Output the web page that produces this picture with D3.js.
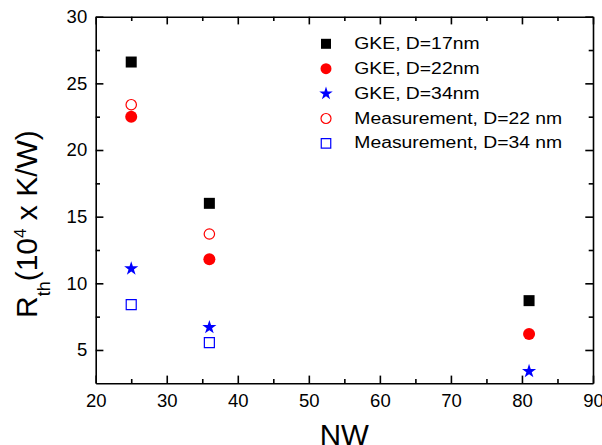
<!DOCTYPE html>
<html>
<head>
<meta charset="utf-8">
<script src="https://cdn.jsdelivr.net/npm/d3@7"></script>
<style>
  html, body { margin: 0; padding: 0; background: #fff; }
  svg { display: block; }
  text { font-family: "Liberation Sans", Arial, Helvetica, sans-serif; fill: #000; }
</style>
</head>
<body>
<svg id="chart" width="602" height="445"></svg>
<script>
// ---- data ----
const nwValues = [25, 36, 81];
const gke17 = [26.6, 16.0, 8.7];
const gke22 = [22.5, 11.8, 6.2];
const gke34 = [11.1, 6.7, 3.4];
const meas22 = [23.4, 13.7, null];
const meas34 = [8.4, 5.55, null];
const xMajorTicks = [20, 30, 40, 50, 60, 70, 80, 90];
const xMinorTicks = [25, 35, 45, 55, 65, 75, 85];
const yMajorTicks = [5, 10, 15, 20, 25, 30];
const yMinorTicks = [7.5, 12.5, 17.5, 22.5, 27.5];
const legendLabels = ["GKE, D=17nm", "GKE, D=22nm", "GKE, D=34nm", "Measurement, D=22 nm", "Measurement, D=34 nm"];
const xTitle = "NW";

// ---- layout ----
const svg = d3.select("#chart");
const L = 95.7, R = 593, T = 16.7, B = 383.3;
const x = d3.scaleLinear().domain([20, 90]).range([L, R]);
const y = d3.scaleLinear().domain([2.5, 30]).range([B, T]);

const axW = 1.6, majLen = 7.7, minLen = 4.3;

function styleAxis(g) {
  g.selectAll("path.domain").attr("stroke", "#000").attr("stroke-width", axW);
  g.selectAll(".tick line").attr("stroke", "#000").attr("stroke-width", axW);
  g.selectAll(".tick text").style("font-size", "18.5px").attr("fill", "#000");
}

// bottom
const gB = svg.append("g").attr("transform", `translate(0,${B})`)
  .call(d3.axisBottom(x).tickValues(xMajorTicks).tickSizeInner(-majLen).tickSizeOuter(0).tickPadding(11).tickFormat(d3.format("d")));
styleAxis(gB);
const gBm = svg.append("g").attr("transform", `translate(0,${B})`)
  .call(d3.axisBottom(x).tickValues(xMinorTicks).tickSizeInner(-minLen).tickSizeOuter(0).tickFormat(""));
styleAxis(gBm); gBm.select("path.domain").remove();
// top
const gT = svg.append("g").attr("transform", `translate(0,${T})`)
  .call(d3.axisTop(x).tickValues(xMajorTicks).tickSizeInner(-majLen).tickSizeOuter(0).tickFormat(""));
styleAxis(gT);
const gTm = svg.append("g").attr("transform", `translate(0,${T})`)
  .call(d3.axisTop(x).tickValues(xMinorTicks).tickSizeInner(-minLen).tickSizeOuter(0).tickFormat(""));
styleAxis(gTm); gTm.select("path.domain").remove();
// left
const gL = svg.append("g").attr("transform", `translate(${L},0)`)
  .call(d3.axisLeft(y).tickValues(yMajorTicks).tickSizeInner(-majLen).tickSizeOuter(0).tickPadding(8.5).tickFormat(d3.format("d")));
styleAxis(gL);
const gLm = svg.append("g").attr("transform", `translate(${L},0)`)
  .call(d3.axisLeft(y).tickValues(yMinorTicks).tickSizeInner(-minLen).tickSizeOuter(0).tickFormat(""));
styleAxis(gLm); gLm.select("path.domain").remove();
// right
const gR = svg.append("g").attr("transform", `translate(${R},0)`)
  .call(d3.axisRight(y).tickValues(yMajorTicks).tickSizeInner(-majLen).tickSizeOuter(0).tickFormat(""));
styleAxis(gR);
const gRm = svg.append("g").attr("transform", `translate(${R},0)`)
  .call(d3.axisRight(y).tickValues(yMinorTicks).tickSizeInner(-minLen).tickSizeOuter(0).tickFormat(""));
styleAxis(gRm); gRm.select("path.domain").remove();

// ---- series ----
const series = [
  { vals: gke17, sym: d3.symbolSquare, size: 121, fill: "#000", stroke: "none", sw: 0, lsize: 100 },
  { vals: gke22, sym: d3.symbolCircle, size: Math.PI * 36, fill: "#ff0000", stroke: "none", sw: 0, lsize: Math.PI * 30 },
  { vals: gke34, sym: d3.symbolStar, size: 62, fill: "#0000ff", stroke: "none", sw: 0, lsize: 56 },
  { vals: meas22, sym: d3.symbolCircle, size: Math.PI * 5.2 * 5.2, fill: "none", stroke: "#ff0000", sw: 1.2, lsize: Math.PI * 5 * 5 },
  { vals: meas34, sym: d3.symbolSquare, size: 100, fill: "none", stroke: "#0000ff", sw: 1.2, lsize: 90 }
];

series.forEach(s => {
  const pts = nwValues.map((n, i) => ({ n, v: s.vals[i] })).filter(d => d.v != null);
  svg.append("g").selectAll("path").data(pts).join("path")
    .attr("transform", d => `translate(${x(d.n)},${y(d.v)})`)
    .attr("d", d3.symbol().type(s.sym).size(s.size))
    .attr("fill", s.fill).attr("stroke", s.stroke).attr("stroke-width", s.sw);
});

// ---- legend ----
const lg = svg.append("g");
const lx = 326, ltx = 354.3, lb0 = 48.8, lstep = 24.9;
legendLabels.forEach((lab, i) => {
  const s = series[i];
  const by = lb0 + i * lstep;
  lg.append("path")
    .attr("transform", `translate(${lx},${by - 5})`)
    .attr("d", d3.symbol().type(s.sym).size(s.lsize))
    .attr("fill", s.fill).attr("stroke", s.stroke).attr("stroke-width", s.sw);
  lg.append("text")
    .attr("transform", `translate(${ltx},${by}) scale(1.24,1)`)
    .style("font-size", "15.6px")
    .text(lab);
});

// ---- axis titles ----
svg.append("text")
  .attr("x", (L + R) / 2).attr("y", 445)
  .attr("text-anchor", "middle")
  .style("font-size", "29.5px")
  .text(xTitle);

const yt = svg.append("text")
  .attr("transform", "translate(37,318) rotate(-90)")
  .attr("text-anchor", "start")
  .style("font-size", "30px");
yt.append("tspan").text("R");
yt.append("tspan").attr("dy", 13).style("font-size", "18px").text("th");
yt.append("tspan").attr("dy", -13).text("(10");
yt.append("tspan").attr("dy", -11.5).style("font-size", "17px").text("4");
yt.append("tspan").attr("dy", 11.5).text(" x K/W)");
</script>
</body>
</html>
